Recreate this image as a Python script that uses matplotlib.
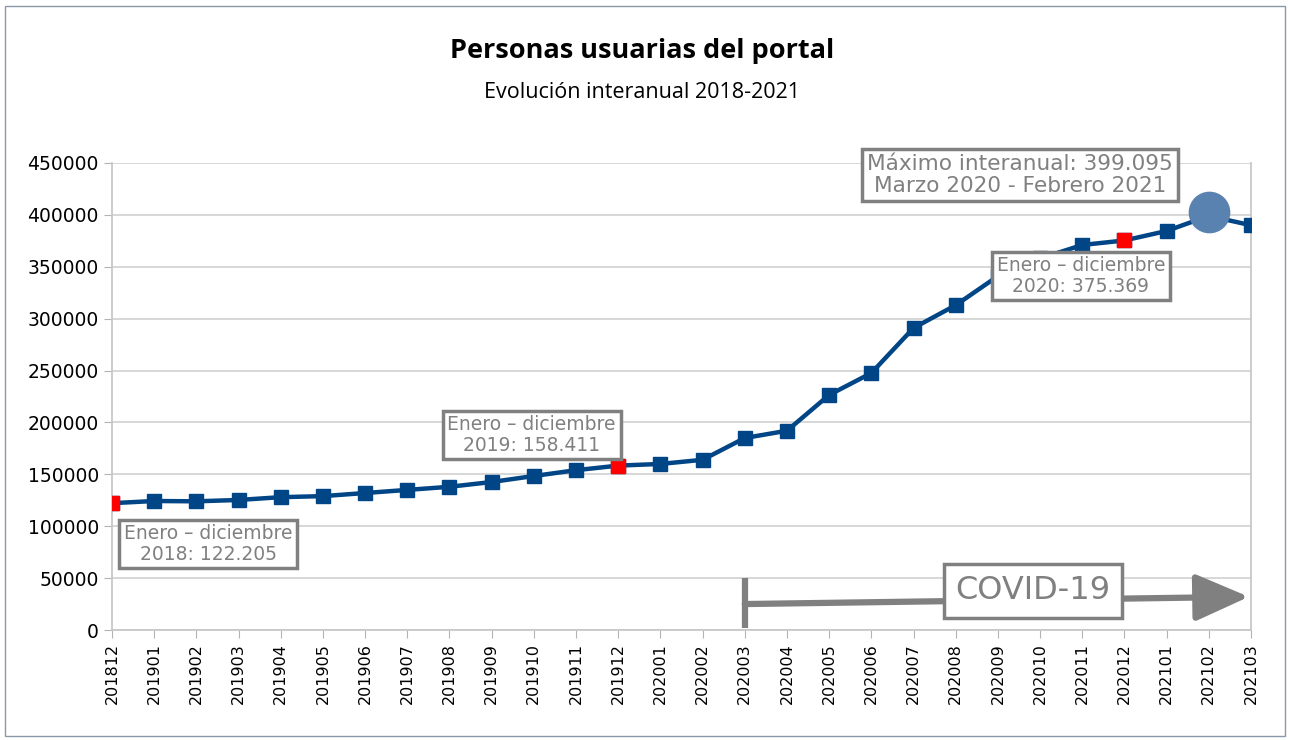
import matplotlib.pyplot as plt
from matplotlib.patches import Rectangle

# Datos: personas usuarias (acumulado interanual)
periodos = ['201812', '201901', '201902', '201903', '201904', '201905', '201906',
            '201907', '201908', '201909', '201910', '201911', '201912', '202001',
            '202002', '202003', '202004', '202005', '202006', '202007', '202008',
            '202009', '202010', '202011', '202012', '202101', '202102', '202103']
usuarios = [122205, 124300, 124000, 125300, 128000, 129000, 132000,
            135000, 138000, 142600, 148400, 154000, 158411, 160000,
            164000, 185000, 192000, 226500, 247600, 291000, 313000,
            341000, 358000, 371000, 375369, 384500, 399095, 390000]
destacados = ['201812', '201912', '202012']
maximo = '202102'

blue = '#004586'
grey = '#808080'

fig = plt.figure(figsize=(12.9, 7.4), dpi=100)
ax = fig.add_axes([112 / 1290, 110 / 740, (1251 - 112) / 1290, (630 - 163) / 740])

x = list(range(len(periodos)))
ax.plot(x, usuarios, color=blue, lw=3.2, marker='s', markersize=9.5, zorder=3)

# puntos en rojo (enero-diciembre)
for p in destacados:
    i = periodos.index(p)
    ax.plot(i, usuarios[i], marker='s', color='#ff0000', markersize=9.5, ls='none', zorder=4)

# máximo interanual
im = periodos.index(maximo)
ax.plot(im, usuarios[im] + 4000, marker='o', color='#5a82b0', markersize=29, ls='none', zorder=5)

ax.set_xlim(0, len(periodos) - 1)
ax.set_ylim(0, 450000)
ax.set_yticks(range(0, 450001, 50000))
ax.set_xticks(x)
ax.set_xticklabels(periodos, rotation=90, fontsize=11.5)
ax.tick_params(axis='y', labelsize=13.5, length=6, color='#b3b3b3')
ax.tick_params(axis='x', length=6, color='#b3b3b3')
ax.grid(axis='y', color='#d4d4d4', lw=1.3)
ax.set_axisbelow(True)
for s in ['left', 'bottom', 'right']:
    ax.spines[s].set_color('#c8c8c8')
    ax.spines[s].set_linewidth(1.3)
ax.spines['top'].set_visible(False)

box = dict(boxstyle='square,pad=0.25', facecolor='white', edgecolor=grey, lw=2.5)
ax.text(2.28, 82900, 'Enero – diciembre\n2018: 122.205', ha='center', va='center',
        fontsize=13.5, color=grey, bbox=box, zorder=6, linespacing=1.1)
ax.text(9.95, 187900, 'Enero – diciembre\n2019: 158.411', ha='center', va='center',
        fontsize=13.5, color=grey, bbox=box, zorder=6, linespacing=1.1)
ax.text(22.97, 341100, 'Enero – diciembre\n2020: 375.369', ha='center', va='center',
        fontsize=13.5, color=grey, bbox=box, zorder=6, linespacing=1.1)
ax.text(21.52, 438400, 'Máximo interanual: 399.095\nMarzo 2020 - Febrero 2021', ha='center',
        va='center', fontsize=15.6, color=grey, bbox=box, zorder=6, linespacing=1.1,
        clip_on=False)

# flecha COVID-19
ic = periodos.index('202003')
ax.plot([ic, ic], [2000, 50000], color=grey, lw=4.5, solid_capstyle='butt', zorder=6, clip_on=False)
ax.annotate('', xy=(26.95, 32000), xytext=(ic, 25000),
            arrowprops=dict(arrowstyle='-|>,head_length=3.3,head_width=1.45', color=grey,
                            lw=4.5, shrinkA=0, shrinkB=0, joinstyle='round'), zorder=6)
ax.text(21.83, 37600, 'COVID-19', ha='center', va='center', fontsize=23, color=grey,
        bbox=dict(boxstyle='square,pad=0.35', facecolor='white', edgecolor=grey, lw=2.5),
        zorder=7)

fig.text(642 / 1290, 1 - 51 / 740, 'Personas usuarias del portal', ha='center', va='center',
         fontsize=19.5, fontweight='bold', family='Open Sans')
fig.text(642 / 1290, 1 - 93 / 740, 'Evolución interanual 2018-2021', ha='center', va='center',
         fontsize=15.5, family='Open Sans')

fig.patches.append(Rectangle((5 / 1290, 4 / 740), 1280 / 1290, 730 / 740, transform=fig.transFigure,
                             fill=False, edgecolor='#8a98a8', lw=1))

fig.savefig('out.png', dpi=100)
